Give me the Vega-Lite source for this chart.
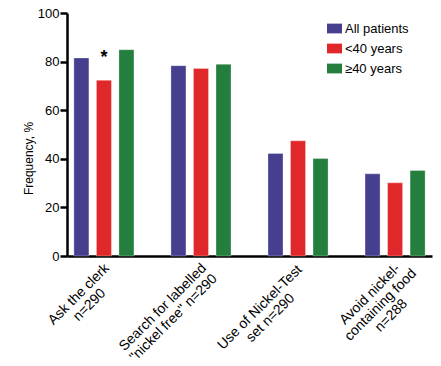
{
  "$schema": "https://vega.github.io/schema/vega-lite/v6.json",
  "width": 365,
  "height": 243,
  "autosize": {"type": "none"},
  "padding": {"left": 67, "top": 13, "right": 9, "bottom": 110},
  "background": "white",
  "config": {"view": {"stroke": null}, "font": "Liberation Sans"},
  "data": {
    "values": [
      {"item": "Ask the clerk\nn=290", "group": "All patients", "value": 81.5, "note": ""},
      {"item": "Ask the clerk\nn=290", "group": "<40 years", "value": 72.3, "note": "*"},
      {"item": "Ask the clerk\nn=290", "group": "≥40 years", "value": 84.9, "note": ""},
      {"item": "Search for labelled\n\"nickel free\" n=290", "group": "All patients", "value": 78.3, "note": ""},
      {"item": "Search for labelled\n\"nickel free\" n=290", "group": "<40 years", "value": 77.2, "note": ""},
      {"item": "Search for labelled\n\"nickel free\" n=290", "group": "≥40 years", "value": 78.9, "note": ""},
      {"item": "Use of Nickel-Test\nset n=290", "group": "All patients", "value": 42.2, "note": ""},
      {"item": "Use of Nickel-Test\nset n=290", "group": "<40 years", "value": 47.4, "note": ""},
      {"item": "Use of Nickel-Test\nset n=290", "group": "≥40 years", "value": 40.1, "note": ""},
      {"item": "Avoid nickel-\ncontaining food\nn=288", "group": "All patients", "value": 33.8, "note": ""},
      {"item": "Avoid nickel-\ncontaining food\nn=288", "group": "<40 years", "value": 30.1, "note": ""},
      {"item": "Avoid nickel-\ncontaining food\nn=288", "group": "≥40 years", "value": 35.2, "note": ""}
    ]
  },
  "encoding": {
    "x": {
      "field": "item",
      "type": "nominal",
      "sort": null,
      "scale": {"paddingInner": 0.381, "paddingOuter": 0.071},
      "axis": {
        "title": null,
        "ticks": false,
        "domainColor": "black",
        "domainWidth": 2.5,
        "labelAngle": -45,
        "labelAlign": "center",
        "labelBaseline": "top",
        "labelFontSize": 14,
        "labelColor": "black",
        "labelLimit": 300,
        "labelOverlap": false,
        "labelLineHeight": 15,
        "labelExpr": "split(datum.label, '\\n')",
        "labelOffset": {"condition": {"test": "test(/^(Ask|Avoid)/, datum.value)", "value": -30}, "value": -43},
        "labelPadding": {"condition": {"test": "test(/^(Ask|Avoid)/, datum.value)", "value": 33}, "value": 46}
      }
    },
    "xOffset": {
      "field": "group",
      "type": "nominal",
      "sort": ["All patients", "<40 years", "≥40 years"],
      "scale": {"paddingInner": 0.333, "paddingOuter": 0}
    },
    "y": {
      "field": "value",
      "type": "quantitative",
      "scale": {"domain": [0, 100], "nice": false},
      "axis": {
        "values": [0, 20, 40, 60, 80, 100],
        "grid": false,
        "domainColor": "black",
        "domainWidth": 2.5,
        "tickColor": "black",
        "tickWidth": 2.5,
        "tickSize": 7,
        "labelFontSize": 13,
        "labelColor": "black",
        "labelPadding": 1,
        "title": "Frequency, %",
        "titleFontSize": 12,
        "titleFontWeight": "normal",
        "titleColor": "black",
        "titlePadding": 2,
        "titleY": 145
      }
    }
  },
  "layer": [
    {
      "mark": {"type": "bar", "stroke": "white", "strokeWidth": 0.6, "strokeOpacity": 0.5},
      "encoding": {
        "color": {
          "field": "group",
          "type": "nominal",
          "scale": {
            "domain": ["All patients", "<40 years", "≥40 years"],
            "range": ["#463f8f", "#e0282a", "#247e3e"]
          },
          "legend": {
            "orient": "none",
            "legendX": 260,
            "legendY": 8,
            "title": null,
            "symbolType": "M-1,-0.65H1V0.65H-1Z",
            "symbolSize": 225,
            "symbolStrokeWidth": 0,
            "symbolOpacity": 1,
            "labelFontSize": 13,
            "labelColor": "black",
            "labelOffset": 3,
            "rowPadding": 5
          }
        }
      }
    },
    {
      "mark": {"type": "text", "fontSize": 18, "fontWeight": "bold", "baseline": "alphabetic", "dy": -17, "color": "black"},
      "encoding": {"text": {"field": "note"}}
    }
  ]
}
